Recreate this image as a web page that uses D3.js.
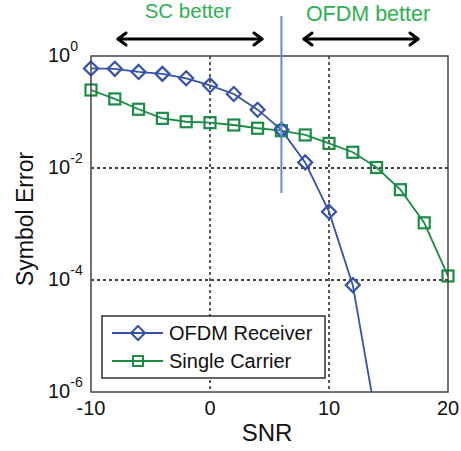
<!DOCTYPE html>
<html>
<head>
<meta charset="utf-8">
<script src="https://cdn.jsdelivr.net/npm/d3@7"></script>
<style>
  body { margin: 0; background: #fff; }
  text { font-family: "Liberation Sans", Arial, sans-serif; }
</style>
</head>
<body>
<script>
// data
var snrOfdm = [-10, -8, -6, -4, -2, 0, 2, 4, 6, 8, 10, 12, 14];
var serOfdm = [0.60, 0.59, 0.52, 0.48, 0.40, 0.30, 0.21, 0.11, 0.048, 0.0126, 0.00166, 8.1e-5, 3e-7];
var snrSc = [-10, -8, -6, -4, -2, 0, 2, 4, 6, 8, 10, 12, 14, 16, 18, 20];
var serSc = [0.247, 0.171, 0.112, 0.077, 0.067, 0.0645, 0.0586, 0.0513, 0.0464, 0.0389, 0.0275, 0.0191, 0.0102, 0.0041, 0.00105, 1.18e-4];
var xTicks = [-10, 0, 10, 20];
var yTicks = [0, -2, -4, -6];
var legendNames = ["OFDM Receiver", "Single Carrier"];
var crossSnr = 6;

var blue = "#3452aa", green = "#1b8c45";

var svg = d3.select("body").append("svg")
  .attr("width", 461)
  .attr("height", 451);

var pLeft = 91, pRight = 448, pTop = 56, pBottom = 392;

var x = d3.scaleLinear().domain([-10, 20]).range([pLeft, pRight]);
var y = d3.scaleLog().domain([1e-6, 1]).range([pBottom, pTop]);

// dashed grid
svg.append("g").selectAll("line").data([0, 10]).enter().append("line")
  .attr("x1", d => x(d)).attr("x2", d => x(d))
  .attr("y1", pTop).attr("y2", pBottom)
  .attr("stroke", "#000").attr("stroke-width", 1.3).attr("stroke-dasharray", "3,3");
svg.append("g").selectAll("line").data([-2, -4]).enter().append("line")
  .attr("x1", pLeft).attr("x2", pRight)
  .attr("y1", d => y(Math.pow(10, d))).attr("y2", d => y(Math.pow(10, d)))
  .attr("stroke", "#000").attr("stroke-width", 1.3).attr("stroke-dasharray", "3,3");

svg.append("defs").append("clipPath").attr("id", "plotclip")
  .append("rect").attr("x", pLeft - 10).attr("y", pTop - 10)
  .attr("width", pRight - pLeft + 20).attr("height", pBottom - pTop + 10);

var line = d3.line().x(d => x(d[0])).y(d => y(d[1]));
var ofdm = snrOfdm.map((s, i) => [s, serOfdm[i]]);
var sc = snrSc.map((s, i) => [s, serSc[i]]);

var plot = svg.append("g").attr("clip-path", "url(#plotclip)");

plot.append("path").datum(sc).attr("d", line)
  .attr("fill", "none").attr("stroke", green).attr("stroke-width", 1.8);
plot.append("path").datum(ofdm).attr("d", line)
  .attr("fill", "none").attr("stroke", blue).attr("stroke-width", 1.8);

plot.selectAll(".sq").data(sc).enter().append("rect")
  .attr("x", d => x(d[0]) - 5.5).attr("y", d => y(d[1]) - 5.5)
  .attr("width", 11).attr("height", 11)
  .attr("fill", "none").attr("stroke", green).attr("stroke-width", 2.2);

var diamond = "M0,-7L7,0L0,7L-7,0Z";
plot.selectAll(".dm").data(ofdm.filter(d => d[1] >= 1e-6)).enter().append("path")
  .attr("d", diamond)
  .attr("transform", d => "translate(" + x(d[0]) + "," + y(d[1]) + ")")
  .attr("fill", "none").attr("stroke", blue).attr("stroke-width", 2.2);

// axes box
svg.append("rect").attr("x", pLeft).attr("y", pTop)
  .attr("width", pRight - pLeft).attr("height", pBottom - pTop)
  .attr("fill", "none").attr("stroke", "#444").attr("stroke-width", 1.5);

// x tick labels
svg.append("g").selectAll("text").data(xTicks).enter().append("text")
  .attr("x", d => x(d)).attr("y", 415)
  .attr("text-anchor", "middle").attr("font-size", 20).attr("fill", "#111")
  .text(d => d);

// y tick labels 10^n
var yl = svg.append("g").selectAll("text").data(yTicks).enter().append("text")
  .attr("x", 48).attr("y", d => y(Math.pow(10, d)) + 6)
  .attr("font-size", 20).attr("fill", "#111");
yl.append("tspan").text("10");
yl.append("tspan").attr("dy", -11).attr("font-size", 14).text(d => d);

// axis labels
svg.append("text").attr("x", 267).attr("y", 441)
  .attr("text-anchor", "middle").attr("font-size", 24).attr("fill", "#111")
  .text("SNR");
svg.append("text")
  .attr("transform", "translate(33,219) rotate(-90)")
  .attr("text-anchor", "middle").attr("font-size", 23).attr("fill", "#111")
  .text("Symbol Error");

// legend
var lg = svg.append("g");
lg.append("rect").attr("x", 102).attr("y", 316).attr("width", 223).attr("height", 62)
  .attr("fill", "#fff").attr("stroke", "#111").attr("stroke-width", 1.3);
var ly = [333, 361];
[blue, green].forEach(function (c, i) {
  lg.append("line").attr("x1", 112).attr("x2", 163).attr("y1", ly[i]).attr("y2", ly[i])
    .attr("stroke", c).attr("stroke-width", 1.8);
  if (i == 0) {
    lg.append("path").attr("d", diamond).attr("transform", "translate(138," + ly[i] + ")")
      .attr("fill", "none").attr("stroke", c).attr("stroke-width", 2);
  } else {
    lg.append("rect").attr("x", 133).attr("y", ly[i] - 5).attr("width", 10).attr("height", 10)
      .attr("fill", "none").attr("stroke", c).attr("stroke-width", 2);
  }
  lg.append("text").attr("x", 169).attr("y", ly[i] + 7).attr("font-size", 20).attr("fill", "#111")
    .text(legendNames[i]);
});

// crossover annotation
svg.append("line").attr("x1", x(crossSnr)).attr("x2", x(crossSnr))
  .attr("y1", 16).attr("y2", 193)
  .attr("stroke", "#5b8fd0").attr("stroke-width", 2);

function arrow(x1, x2, yy) {
  var g = svg.append("g").attr("stroke", "#000").attr("stroke-width", 3)
    .attr("fill", "none").attr("stroke-linecap", "round").attr("stroke-linejoin", "round");
  g.append("line").attr("x1", x1).attr("x2", x2).attr("y1", yy).attr("y2", yy);
  g.append("path").attr("d", "M" + (x1 + 8) + "," + (yy - 6) + "L" + x1 + "," + yy + "L" + (x1 + 8) + "," + (yy + 6));
  g.append("path").attr("d", "M" + (x2 - 8) + "," + (yy - 6) + "L" + x2 + "," + yy + "L" + (x2 - 8) + "," + (yy + 6));
}
arrow(118, 262, 39);
arrow(304, 418, 39);

svg.append("text").attr("x", 188).attr("y", 18).attr("text-anchor", "middle")
  .attr("font-family", "Lato, 'Open Sans', sans-serif").attr("font-size", 20.5).attr("fill", "#2db04f")
  .text("SC better");
svg.append("text").attr("x", 368).attr("y", 21).attr("text-anchor", "middle")
  .attr("font-family", "Lato, 'Open Sans', sans-serif").attr("font-size", 21.5).attr("fill", "#2db04f")
  .text("OFDM better");
</script>
</body>
</html>
